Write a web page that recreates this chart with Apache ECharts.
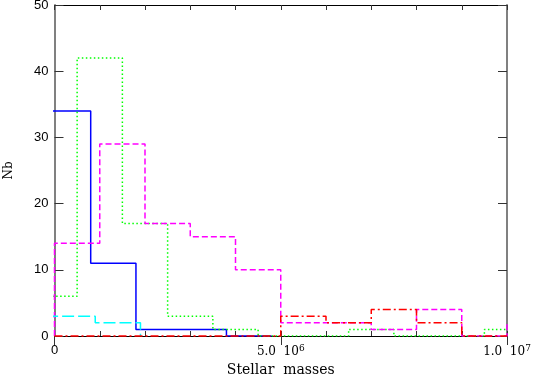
<!DOCTYPE html>
<html>
<head>
<meta charset="utf-8">
<script src="https://cdn.jsdelivr.net/npm/echarts@6/dist/echarts.min.js"></script>
<style>
  html, body { margin: 0; padding: 0; background: #fff; }
  #chart { width: 533px; height: 376px; }
</style>
</head>
<body>
<div id="chart"></div>
<script>
// histogram bins are 1e6 wide, each series has its own first edge
const binWidth = 1e6;
const blueStart = -0.2e6;
const blueCounts = [34, 11, 1, 1, 0];
const greenStart = -0.5e6;
const greenCounts = [6, 42, 17, 3, 1, 0, 0, 1, 0, 0, 1];
const magentaStart = 0;
const magentaCounts = [14, 29, 17, 15, 10, 2, 2, 1, 4, 0, 2];
const cyanStart = -0.1e6;
const cyanCounts = [3, 2];
const redStart = 0;
const redCounts = [0, 0, 0, 0, 0, 3, 2, 4, 2, 0];

const xTickLabels = { 0: '{s|0}', 5000000: '5.0  10{sup|6}', 10000000: '1.0  10{sup|7}' };
const yTicks = [0, 10, 20, 30, 40, 50];

// step outline: start at 0, one point per bin, back down to 0
function steps(start, counts) {
  let pts = [[start, 0]];
  counts.forEach((c, i) => pts.push([start + i * binWidth, c]));
  pts.push([start + counts.length * binWidth, 0]);
  return pts;
}

function hist(name, start, counts, color, type, z, clip) {
  return {
    name: name,
    type: 'line',
    step: 'end',
    symbol: 'none',
    z: z,
    data: steps(start, counts),
    lineStyle: { color: color, width: 1.5, type: type },
    clip: clip
  };
}

let myChart = echarts.init(document.getElementById('chart'));
let serif = 'DejaVu Serif';
let sans = 'Liberation Sans';

myChart.setOption({
  animation: false,
  grid: { left: 54.5, right: 26, top: 5, bottom: 40, containLabel: false, outerBoundsMode: 'none' },
  xAxis: [
    {
      type: 'value', min: 0, max: 1e7, interval: 1e6,
      position: 'bottom',
      name: 'Stellar  masses', nameLocation: 'middle', nameGap: 27,
      nameTextStyle: { fontFamily: serif, fontSize: 14, color: '#000' },
      axisLine: { show: true, onZero: false, lineStyle: { color: '#000', width: 1 } },
      axisTick: { show: true, inside: true, length: 5, lineStyle: { color: '#333' } },
      splitLine: { show: false },
      axisLabel: {
        margin: 8, color: '#000', fontFamily: serif, fontSize: 12,
        showMaxLabel: true, showMinLabel: true, hideOverlap: false,
        formatter: v => xTickLabels[v] || '',
        rich: {
          s: { fontFamily: sans, fontSize: 13, color: '#000' },
          sup: { fontFamily: serif, fontSize: 9, color: '#000', verticalAlign: 'top', padding: [0, 0, 6, 0] }
        }
      }
    },
    {
      type: 'value', min: 0, max: 1e7, interval: 1e6,
      position: 'top',
      axisLine: { show: true, onZero: false, lineStyle: { color: '#000', width: 1 } },
      axisTick: { show: true, inside: true, length: 5, lineStyle: { color: '#333' } },
      axisLabel: { show: false },
      splitLine: { show: false }
    },
    {
      type: 'value', min: 0, max: 1e7, interval: 5e6,
      position: 'top',
      axisLine: { show: false },
      axisTick: { show: true, inside: true, length: 9, lineStyle: { color: '#333' } },
      axisLabel: { show: false },
      splitLine: { show: false }
    }
  ],
  yAxis: [
    {
      type: 'value', min: 0, max: 50, interval: 10,
      position: 'left',
      name: 'Nb', nameLocation: 'middle', nameGap: 40,
      nameTextStyle: { fontFamily: serif, fontSize: 12, color: '#000' },
      axisLine: { show: true, onZero: false, lineStyle: { color: '#808080', width: 2 } },
      axisTick: { show: true, inside: true, length: 9, lineStyle: { color: '#333' } },
      splitLine: { show: false },
      axisLabel: { margin: 6, color: '#000', fontFamily: sans, fontSize: 13,
        formatter: v => yTicks.includes(v) ? String(v) : '' }
    },
    {
      type: 'value', min: 0, max: 50, interval: 10,
      position: 'right',
      axisLine: { show: true, onZero: false, lineStyle: { color: '#808080', width: 2 } },
      axisTick: { show: true, inside: true, length: 9, lineStyle: { color: '#333' } },
      axisLabel: { show: false },
      splitLine: { show: false }
    }
  ],
  series: [
    hist('blue', blueStart, blueCounts, '#0000ff', 'solid', 3, true),
    hist('green', greenStart, greenCounts, '#00ff00', [1.5, 2.5], 4, true),
    hist('magenta', magentaStart, magentaCounts, '#ff00ff', [6, 3], 5, true),
    hist('cyan', cyanStart, cyanCounts, '#00ffff', [12, 4], 6, true),
    hist('red', redStart, redCounts, '#ff0000', [8, 3, 2, 3], 7, false)
  ]
});

window.addEventListener('resize', () => {
  myChart.resize();
});
</script>
</body>
</html>
